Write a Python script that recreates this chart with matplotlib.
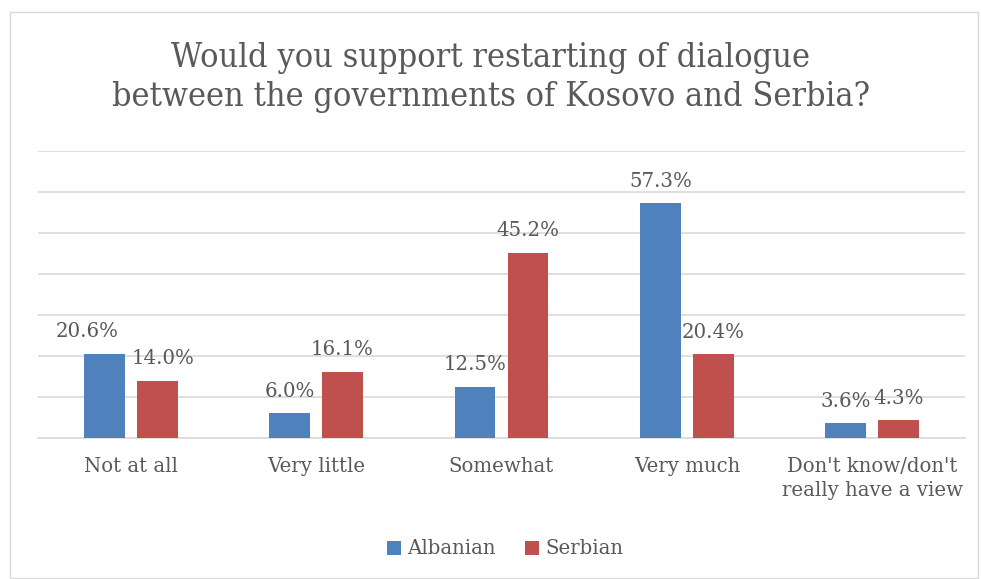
import numpy as np
import matplotlib.pyplot as plt
from matplotlib.patches import Rectangle

categories = ["Not at all", "Very little", "Somewhat", "Very much",
              "Don't know/don't\nreally have a view"]
albanian = [20.6, 6.0, 12.5, 57.3, 3.6]
serbian = [14.0, 16.1, 45.2, 20.4, 4.3]
series_names = ["Albanian", "Serbian"]

text_col = "#595959"
blue = "#4F81BD"
red = "#C0504D"
label_font = ["DejaVu Serif"]
fs = 14.2

fig = plt.figure(figsize=(9.81, 5.79), dpi=100)
fig.patches.append(Rectangle((10/981, 1/579), 968/981, 566/579, transform=fig.transFigure,
                             fill=False, edgecolor="#D9D9D9", linewidth=1))

ax = fig.add_axes([38/981, 141/579, 927/981, 287/579])

x = np.arange(len(categories))
w = 0.22
off = 0.1425
b1 = ax.bar(x - off, albanian, w, color=blue, label=series_names[0], zorder=3)
b2 = ax.bar(x + off, serbian, w, color=red, label=series_names[1], zorder=3)

for bars, vals in ((b1, albanian), (b2, serbian)):
    for i, (rect, v) in enumerate(zip(bars, vals)):
        dx = 0
        if i == 0:
            dx = -12 if bars is b1 else 4
        ax.annotate(f"{v:.1f}%", (rect.get_x() + rect.get_width()/2, v),
                    xytext=(dx, 9), textcoords="offset points", ha="center", va="bottom",
                    fontsize=fs, color=text_col, family=label_font)

ax.set_xlim(-0.5, len(categories) - 0.5)
ax.set_ylim(0, 70)
ax.set_yticks(np.arange(0, 71, 10))
ax.yaxis.grid(True, color="#D9D9D9", linewidth=1.2, zorder=0)
ax.tick_params(axis="y", left=False, labelleft=False)
ax.tick_params(axis="x", length=0, pad=14)
ax.set_xticks(x)
ax.set_xticklabels(categories, fontsize=fs, color=text_col, family=label_font,
                   linespacing=1.3, va="top")
for s in ["top", "right", "left"]:
    ax.spines[s].set_visible(False)
ax.spines["bottom"].set_color("#D9D9D9")
ax.spines["bottom"].set_linewidth(1.2)

fig.text(0.5, 0.866, "Would you support restarting of dialogue\nbetween the governments of Kosovo and Serbia?",
         ha="center", va="center", fontsize=24.5, color=text_col,
         family=["DejaVu Serif", "Liberation Serif"], fontstretch="condensed", linespacing=1.3)

leg = fig.legend(loc="center", bbox_to_anchor=(0.515, 30/579), ncol=2, frameon=False,
                 handlelength=0.7, handleheight=0.7, handletextpad=0.3, columnspacing=1.5,
                 prop={"family": label_font, "size": fs})
for t in leg.get_texts():
    t.set_color(text_col)

plt.savefig("out.png", dpi=100)
